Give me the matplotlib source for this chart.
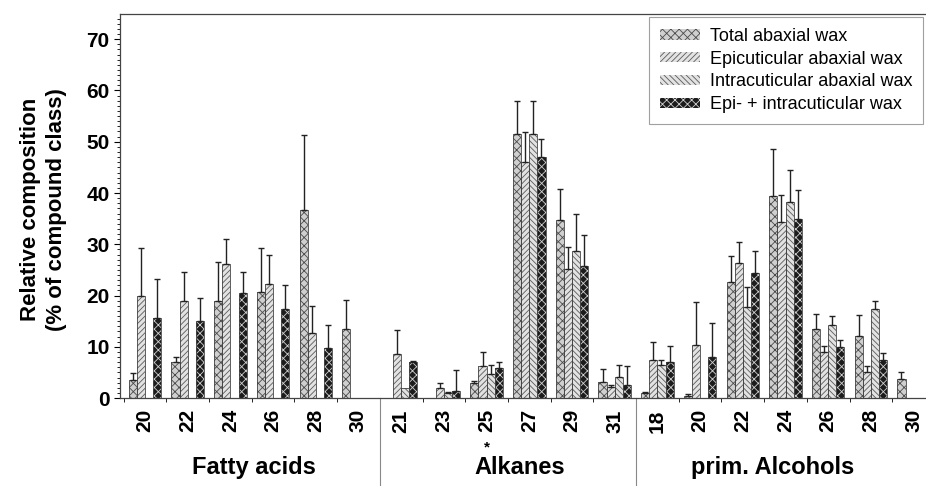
import matplotlib
matplotlib.use("Agg")
import matplotlib.pyplot as plt
import numpy as np

plt.rcParams['font.family'] = ['Liberation Sans', 'DejaVu Sans']
plt.rcParams['hatch.linewidth'] = 0.6

# chain lengths per compound class
fatty = ['20', '22', '24', '26', '28', '30']
alkanes = ['21', '23', '25', '27', '29', '31']
alcohols = ['18', '20', '22', '24', '26', '28', '30']
tick_labels = fatty + alkanes + alcohols
groups = ['Fatty acids', 'Alkanes', 'prim. Alcohols']

series = ['Total abaxial wax', 'Epicuticular abaxial wax',
          'Intracuticular abaxial wax', 'Epi- + intracuticular wax']

# mean values (0 = not detected)
total = [3.5, 7.1, 18.9, 20.7, 36.6, 13.4,
         0, 0, 2.9, 51.6, 34.8, 3.2,
         0.9, 0.4, 22.7, 39.5, 13.5, 12.1, 3.7]
epi = [20.0, 19.0, 26.1, 22.2, 12.7, 0,
       8.5, 1.9, 6.3, 46.0, 25.1, 2.1,
       7.4, 10.3, 26.4, 34.4, 9.0, 5.0, 0]
intra = [0, 0, 0, 0, 0, 0,
         1.9, 1.0, 4.7, 51.6, 28.7, 4.1,
         6.5, 0, 17.7, 38.3, 14.2, 17.3, 0]
epi_intra = [15.7, 15.0, 20.5, 17.4, 9.8, 0,
             7.1, 1.4, 5.9, 47.0, 25.7, 2.5,
             7.1, 8.0, 24.4, 35.0, 10.0, 7.5, 0]

# top of error bars
total_err = [4.9, 8.1, 26.5, 29.3, 51.3, 19.1,
             0, 0, 3.3, 57.9, 40.7, 5.6,
             1.1, 0.7, 27.7, 48.6, 16.3, 16.2, 5.0]
epi_err = [29.3, 24.6, 31.1, 27.9, 18.0, 0,
           13.2, 2.9, 8.9, 51.9, 29.4, 2.6,
           11.0, 18.8, 30.5, 39.6, 10.1, 6.2, 0]
intra_err = [0, 0, 0, 0, 0, 0,
             1.9, 1.2, 6.4, 57.9, 35.9, 6.4,
             7.5, 0, 21.7, 44.4, 16.0, 18.9, 0]
epi_intra_err = [23.2, 19.6, 24.6, 22.0, 14.2, 0,
                 7.2, 5.4, 7.1, 50.5, 31.9, 6.2,
                 10.2, 14.7, 28.7, 40.6, 11.3, 8.8, 0]

means = [total, epi, intra, epi_intra]
tops = [total_err, epi_err, intra_err, epi_intra_err]
faces = ['#cfcfcf', '#e2e2e2', '#e2e2e2', '#1c1c1c']
edges = ['#4a4a4a', '#5a5a5a', '#5a5a5a', '#d0d0d0']
hatches = ['xxxx', '//////', '\\\\\\\\\\\\', 'xxxx']

fig = plt.figure(figsize=(9.26, 4.86), dpi=100)
ax = fig.add_axes([0.1296, 0.181, 0.8704, 0.791])

x = np.arange(len(tick_labels))
w = 0.19
for k in range(4):
    m = np.array(means[k])
    t = np.array(tops[k])
    xs = x + (k - 1.5) * w
    ax.bar(xs, m, w, color=faces[k], edgecolor=edges[k], hatch=hatches[k],
           linewidth=0, label=series[k], zorder=2)
    # outline
    ax.bar(xs[m > 0], m[m > 0], w, fill=False, edgecolor='#444444',
           linewidth=0.6, zorder=2.5)
    ok = t > m
    ax.errorbar(xs[ok], m[ok], yerr=[np.zeros(ok.sum()), (t - m)[ok]],
                fmt='none', ecolor='#222222', elinewidth=1.0, capsize=2,
                capthick=1.0, zorder=3)

ax.set_xlim(-0.585, 18.29)
ax.set_ylim(0, 75)
ax.set_yticks(np.arange(0, 71, 10))
ax.set_yticks(np.arange(0, 75, 1), minor=True)
ax.tick_params(axis='y', which='major', labelsize=15, length=4, width=0.8)
ax.tick_params(axis='y', which='minor', length=2, width=0.6)
for lb in ax.get_yticklabels():
    lb.set_fontweight('bold')

ax.set_xticks(x)
ax.set_xticklabels(tick_labels, rotation=90, fontsize=15, fontweight='bold')
ax.tick_params(axis='x', which='major', length=0, pad=8)
ax.set_xticks(np.arange(-0.5, 18.5, 1), minor=True)
ax.tick_params(axis='x', which='minor', length=3, width=0.6)

for s in ['left', 'bottom', 'top']:
    ax.spines[s].set_color('#444444')
    ax.spines[s].set_linewidth(0.9)
ax.spines['right'].set_visible(False)

ax.set_ylabel('Relative composition\n(% of compound class)', fontsize=16,
              fontweight='bold', linespacing=1.3)
ax.yaxis.set_label_coords(-0.066, 0.49)

# class separators and names
for sx in [5.5, 11.5]:
    ax.plot([sx, sx], [0, -0.23], color='#888888', linewidth=0.8,
            transform=ax.get_xaxis_transform(), clip_on=False)
for gx, g in zip([2.55, 8.78, 14.7], groups):
    ax.text(gx, -0.182, g, transform=ax.get_xaxis_transform(),
            ha='center', va='center', fontsize=17, fontweight='bold')
ax.text(8, -0.138, '*', transform=ax.get_xaxis_transform(),
        ha='center', va='baseline', fontsize=11, fontweight='bold')

leg = fig.legend(loc='upper left', bbox_to_anchor=(0.7009, 0.965),
                 frameon=True, fancybox=False, fontsize=13, handlelength=2.2,
                 handleheight=0.5, labelspacing=0.32, borderpad=0.6,
                 handletextpad=0.55, borderaxespad=0)
leg.get_frame().set_edgecolor('#888888')
leg.get_frame().set_linewidth(0.8)

fig.savefig('out.png', dpi=100)
